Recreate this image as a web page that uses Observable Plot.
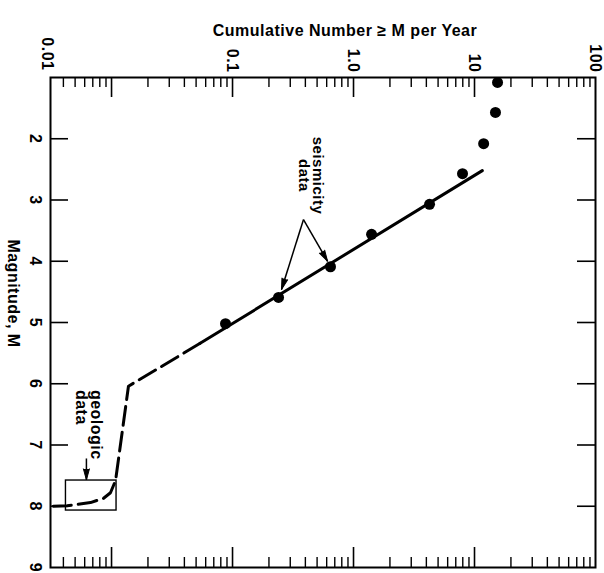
<!DOCTYPE html>
<html>
<head>
<meta charset="utf-8">
<script src="https://cdn.jsdelivr.net/npm/d3@7"></script>
<script src="https://cdn.jsdelivr.net/npm/@observablehq/plot@0.6"></script>
<style>
  body { margin: 0; background: #fff; }
  #chart svg { display: block; }
  #chart svg text { letter-spacing: 0.5px; }
</style>
</head>
<body>
<div id="chart"></div>
<script>
// Seismicity observations: magnitude M and cumulative number of events >= M per year
const seisMag  = [1.08, 1.57, 2.08, 2.57, 3.07, 3.56, 4.09, 4.59, 5.02];
const seisRate = [15.5, 14.9, 11.9, 7.96, 4.25, 1.41, 0.645, 0.24, 0.0875];

// Recurrence line fitted through the seismicity data
const fitMag  = [2.52, 5.34];
const fitRate = [11.6, 0.054];

// Dashed extrapolation down to the geologic estimate
const extMag  = [5.34, 6.04, 7.58, 7.78, 7.87, 7.94, 7.97, 7.99, 8.0];
const extRate = [0.054, 0.0138, 0.0108, 0.0098, 0.0086, 0.0067, 0.0052, 0.0043, 0.0033];

// Extent of the geologic data
const geoRate = [0.0042, 0.011];
const geoMag  = [7.58, 8.07];

// Annotation arrows: tail and tip positions (rate, magnitude)
const seisArrowTail = [0.386, 3.32];
const seisArrowTips = [[0.254, 4.46], [0.61, 4.0]];
const geoArrowTail  = [0.0062, 7.22];
const geoArrowTip   = [0.0062, 7.57];

// Axes
const rateDomain = [0.00313, 100];
const magDomain  = [1, 9];
const rateMajor  = [0.01, 0.1, 1, 10];
const rateLabelTicks = [0.1, 1, 10, 100];
const rateLabels = ["0.1", "1.0", "10", "100"];
const magTicks   = [2, 3, 4, 5, 6, 7, 8, 9];
const magInnerTicks = [2, 3, 4, 5, 6, 7, 8];

const W = 604, H = 573;
const M = {top: 77, right: 9, bottom: 6, left: 50};
const plotW = W - M.left - M.right;
const plotH = H - M.top - M.bottom;

// minor log ticks (2..9 within each decade)
const rateMinor = [];
for (const d of [0.001, 0.01, 0.1, 1, 10]) {
  for (let k = 2; k <= 9; k++) {
    const v = +(d * k).toPrecision(3);
    if (v > rateDomain[0] && v < rateDomain[1]) rateMinor.push(v);
  }
}

const seis = seisMag.map((m, i) => ({m, n: seisRate[i]}));
const fit  = fitMag.map((m, i) => ({m, n: fitRate[i]}));
const ext  = extMag.map((m, i) => ({m, n: extRate[i]}));

// arrows with filled heads: shaft as a link, head as a spike pointing along the shaft
const xs = Plot.scale({x: {type: "log", domain: rateDomain, range: [M.left, W - M.right]}});
const ys = Plot.scale({y: {type: "linear", domain: magDomain, range: [M.top, H - M.bottom]}});
const arrows = [
  ...seisArrowTips.map(t => ({x1: seisArrowTail[0], y1: seisArrowTail[1], x2: t[0], y2: t[1]})),
  {x1: geoArrowTail[0], y1: geoArrowTail[1], x2: geoArrowTip[0], y2: geoArrowTip[1]}
].map(a => {
  const dx = xs.apply(a.x2) - xs.apply(a.x1);
  const dy = ys.apply(a.y2) - ys.apply(a.y1);
  return {...a, angle: Math.atan2(dx, -dy) * 180 / Math.PI};
});

const font = "Liberation Sans, Arial, Helvetica, sans-serif";

const chart = Plot.plot({
  width: W,
  height: H,
  marginTop: M.top,
  marginRight: M.right,
  marginBottom: M.bottom,
  marginLeft: M.left,
  style: {fontFamily: font, background: "#fff", color: "#000"},
  x: {type: "log", domain: rateDomain},
  y: {domain: magDomain, reverse: true},
  marks: [
    // inward tick marks on all four sides
    Plot.tickX(rateMajor, {x: d => d, insetBottom: plotH - 20, strokeWidth: 1.6}),
    Plot.tickX(rateMinor, {x: d => d, insetBottom: plotH - 10, strokeWidth: 1.4}),
    Plot.tickX(rateMajor, {x: d => d, insetTop: plotH - 20, strokeWidth: 1.6}),
    Plot.tickX(rateMinor, {x: d => d, insetTop: plotH - 10, strokeWidth: 1.4}),
    Plot.tickY(magInnerTicks, {y: d => d, insetRight: plotW - 18, strokeWidth: 1.6}),
    Plot.tickY(magInnerTicks, {y: d => d, insetLeft: plotW - 18, strokeWidth: 1.6}),

    // tick labels
    Plot.axisX(rateLabelTicks, {
      anchor: "top", tickSize: 0, tickRotate: 90, tickPadding: 5,
      tickFormat: d => rateLabels[rateLabelTicks.indexOf(d)],
      fontSize: 16, fontWeight: "bold", label: null
    }),
    Plot.text(["0.01"], {
      frameAnchor: "top-left", rotate: 90, textAnchor: "end", lineAnchor: "middle",
      dx: -3, dy: -7, fontSize: 16, fontWeight: "bold"
    }),
    Plot.axisY(magTicks, {
      anchor: "left", tickSize: 0, tickRotate: 90, tickPadding: 9,
      tickFormat: d => String(d),
      fontSize: 16, fontWeight: "bold", label: null
    }),

    // axis titles
    Plot.text(["Cumulative Number \u2265 M per Year"], {
      frameAnchor: "top", textAnchor: "middle", dx: 22, dy: -53, fontSize: 16, fontWeight: "bold"
    }),
    Plot.text(["Magnitude, M"], {
      frameAnchor: "left", rotate: 90, textAnchor: "middle", lineAnchor: "middle",
      dx: -37, dy: -29, fontSize: 16, fontWeight: "bold"
    }),

    // geologic data box and its annotation
    Plot.rect([0], {x1: geoRate[0], x2: geoRate[1], y1: geoMag[0], y2: geoMag[1], fill: "none", stroke: "#000", strokeWidth: 1.4}),
    Plot.text(["geologic\ndata"], {
      x: 0.0064, y: 6.1, rotate: 90, textAnchor: "start", lineAnchor: "middle",
      lineHeight: 0.95, fontSize: 16, fontWeight: "bold"
    }),

    // seismicity annotation
    Plot.text(["seismicity\ndata"], {
      x: 0.44, y: 2.6, rotate: 90, textAnchor: "middle", lineAnchor: "middle",
      lineHeight: 0.95, fontSize: 15, fontWeight: "bold"
    }),

    // annotation arrows
    Plot.link(arrows, {x1: "x1", y1: "y1", x2: "x2", y2: "y2", stroke: "#000", strokeWidth: 1.5}),
    Plot.vector(arrows, {
      x: "x2", y: "y2", rotate: "angle", length: 11, anchor: "end", shape: "spike", r: 3,
      fill: "#000", stroke: "#000", strokeWidth: 1
    }),

    // recurrence lines
    Plot.line(ext, {x: "n", y: "m", stroke: "#000", strokeWidth: 3, strokeDasharray: "19,7"}),
    Plot.line(fit, {x: "n", y: "m", stroke: "#000", strokeWidth: 3}),

    // seismicity data points
    Plot.dot(seis, {x: "n", y: "m", r: 5.5, fill: "#000", stroke: "none"}),

    Plot.frame({stroke: "#000", strokeWidth: 2})
  ]
});

document.getElementById("chart").appendChild(chart);
</script>
</body>
</html>
